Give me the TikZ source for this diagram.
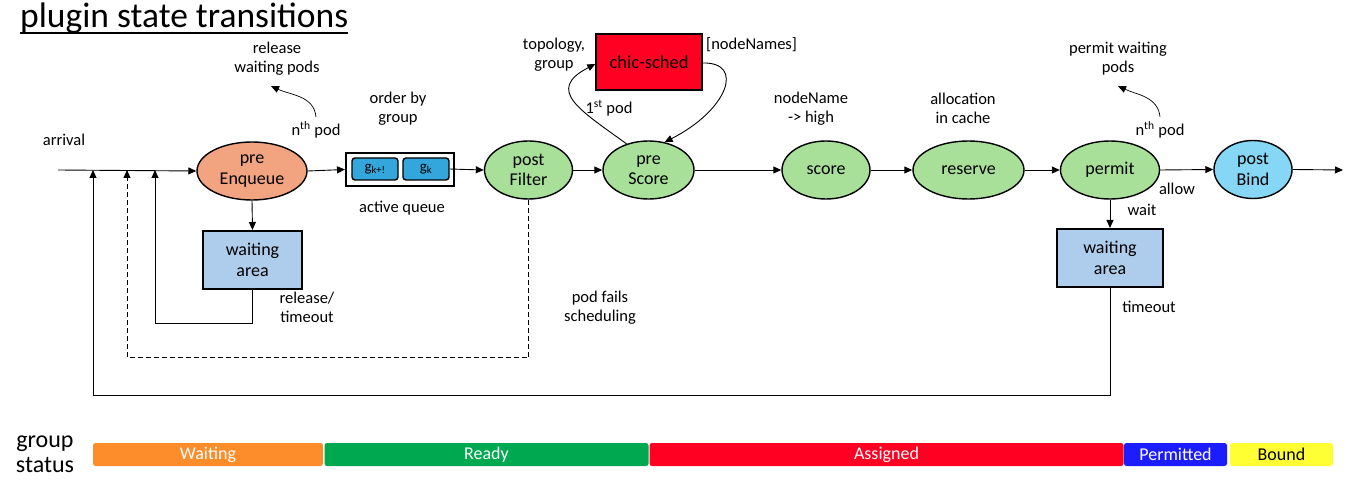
\documentclass[tikz,border=0pt]{standalone}
\usepackage{fontspec}
\setmainfont{Carlito}
\usetikzlibrary{shapes.geometric,arrows.meta}
\definecolor{salmonfill}{HTML}{F2A37F}
\definecolor{greenfill}{HTML}{A8E09A}
\definecolor{bindfill}{HTML}{86D6F5}
\definecolor{waitfill}{HTML}{AECCEB}
\definecolor{queuefill}{HTML}{33A7DB}
\definecolor{chicred}{HTML}{FF0022}
\definecolor{barorange}{HTML}{FD8C2A}
\definecolor{bargreen}{HTML}{00A84F}
\definecolor{barred}{HTML}{FF0022}
\definecolor{barblue}{HTML}{1C1CFF}
\definecolor{baryellow}{HTML}{FFFF33}
\begin{document}
\begin{tikzpicture}[x=1pt,y=-1pt,
  every node/.style={inner sep=0pt, font=\fontsize{16.5}{19}\selectfont},
  arr/.style={-{Triangle[length=8pt,width=7pt]}, line width=0.9pt},
  ell/.style={ellipse, draw, line width=1.4pt, align=center, minimum height=58pt, font=\fontsize{18}{20.5}\selectfont},
  wbox/.style={draw, line width=2pt, fill=waitfill, align=center, minimum height=58pt, font=\fontsize{18}{20.5}\selectfont},
  gbox/.style={draw, line width=1.4pt, fill=queuefill, rounded corners=3pt, minimum height=22pt, font=\fontsize{15}{17}\selectfont},
  lbl/.style={align=center},
  bar/.style={rounded corners=2.5pt, minimum height=23pt, text=white, font=\fontsize{18}{19}\selectfont},
]
\useasboundingbox (0,0) rectangle (1353,489);

% title
\node[anchor=base west, font=\fontsize{35.5}{40}\selectfont] (title) at (20,28) {plugin state transitions};
\draw[line width=1.6pt] ([yshift=-5pt]title.base west) -- ([yshift=-5pt]title.base east);

% main nodes
\node[ell, fill=salmonfill, minimum width=110pt] (pe) at (252,171) {pre\\Enqueue};
\node[draw, line width=2pt, minimum width=108pt, minimum height=33pt] (queue) at (400,169.5) {};
\node[gbox, minimum width=46pt] (gk1) at (375,169) {g\textsubscript{k+!}};
\node[gbox, minimum width=46pt] (gk) at (426,169) {g\textsubscript{k}};
\node[ell, fill=greenfill, minimum width=88pt] (pf) at (528.5,170) {post\\Filter};
\node[ell, fill=greenfill, minimum width=91pt] (ps) at (648.5,170) {pre\\Score};
\node[draw, line width=1.4pt, fill=chicred, minimum width=106pt, minimum height=56pt, font=\fontsize{18.5}{20}\selectfont] (chic) at (649,62) {chic-sched};
\node[ell, fill=greenfill, minimum width=88pt] (sc) at (826,170) {score};
\node[ell, fill=greenfill, minimum width=111pt] (rs) at (968.5,170) {reserve};
\node[ell, fill=greenfill, minimum width=99pt] (pm) at (1110,170) {permit};
\node[ell, fill=bindfill, minimum width=78pt] (pb) at (1253,169.5) {post\\Bind};
\node[wbox, minimum width=99pt] (wa1) at (252.5,260) {waiting\\area};
\node[wbox, minimum width=106pt] (wa2) at (1110,258) {waiting\\area};

% coordinates
\coordinate (start) at (58,170);
\coordinate (endp) at (1343,170);
\coordinate (in1) at (93,170);
\coordinate (in2) at (127,170);
\coordinate (in3) at (155,170);
\coordinate (relS) at (316,117);
\coordinate (relE) at (271,86);
\coordinate (perS) at (1160,117);
\coordinate (perE) at (1118,86);

% main flow
\draw[arr] (start) -- (pe.west);
\draw[arr] (pe.east) -- (queue.west);
\draw[arr] (gk.east) -- (pf.west);
\draw[arr] (pf.east) -- (ps.west);
\draw[arr] (ps.east) -- (sc.west);
\draw[arr] (sc.east) -- (rs.west);
\draw[arr] (rs.east) -- (pm.west);
\draw[arr] (pm.east) -- (pb.west);
\draw[arr] (pb.east) -- (endp);
\draw[arr] (pe.south) -- (wa1.north);
\draw[arr] (pm.south) -- (wa2.north);

% feedback loops
\draw[arr] (wa1.south) -- ++(0,33) -| (in3);
\draw[arr, dashed, dash pattern=on 5pt off 3pt] (pf.south) -- ++(0,158) -| (in2);
\draw[arr] (wa2.south) -- ++(0,107) -| (in1);

% chic-sched loop
\draw[arr] (ps.130) .. controls (580,110) and (545,90) .. (chic.west |- 0,64);
\draw[arr] (chic.east |- 0,63) .. controls (745,62) and (728,110) .. (ps.60);

% side arrows
\draw[arr, line width=0.7pt] (relS) to[out=95, in=-25] (relE);
\draw[arr, line width=0.7pt] (perS) to[out=95, in=-25] (perE);

% labels
\node (larr) at (64,140) {arrival};
\node[lbl] (lrel) at (277,58.5) {release\\waiting pods};
\node (lnth) at (316,130) {n\textsuperscript{th} pod};
\node[lbl] (lord) at (398,108.5) {order by\\group};
\node (lact) at (402,208) {active queue};
\node[lbl] (ltop) at (554,55) {topology,\\group};
\node[anchor=west] (lnn) at (706,45) {[nodeNames]};
\node (lfirst) at (609,108) {1\textsuperscript{st} pod};
\node[lbl] (lnode) at (811,108.5) {nodeName\\-> high};
\node[lbl] (lalloc) at (963,108.5) {allocation\\in cache};
\node[lbl] (lpw) at (1118,58.5) {permit waiting\\pods};
\node (lnth2) at (1160,130) {n\textsuperscript{th} pod};
\node (lallow) at (1177,189) {allow};
\node (lwait) at (1142,210) {wait};
\node (ltime) at (1149,307) {timeout};
\node[lbl] (lrt) at (307,307.5) {release/\\timeout};
\node[lbl] (lpf) at (600,307.5) {pod fails\\scheduling};

% group status
\node[lbl, font=\fontsize{24}{25}\selectfont] (gs) at (45,454) {group\\status};
\node[bar, fill=barorange, minimum width=230pt] (b1) at (208,454.5) {Waiting};
\node[bar, fill=bargreen, minimum width=324pt] (b2) at (486.5,454.5) {Ready};
\node[bar, fill=barred, minimum width=474pt] (b3) at (886.5,454.5) {Assigned};
\node[bar, fill=barblue, minimum width=103pt] (b4) at (1175.5,454.5) {Permitted};
\node[bar, fill=baryellow, minimum width=103pt, text=black] (b5) at (1281.5,454.5) {Bound};
\end{tikzpicture}
\end{document}
